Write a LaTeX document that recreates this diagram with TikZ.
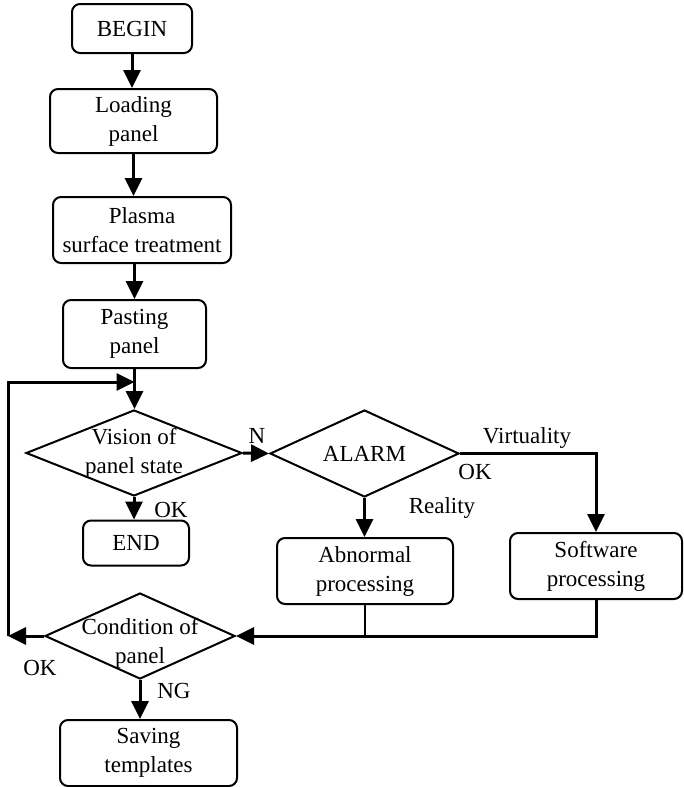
\documentclass[tikz,border=0pt]{standalone}
\usepackage{fontspec}
\setmainfont{Liberation Serif}
\usetikzlibrary{arrows.meta,shapes.geometric,positioning,calc}

\begin{document}
\begin{tikzpicture}[x=1pt, y=-1pt,
    font=\fontsize{23}{29}\selectfont,
    process/.style={draw, line width=2pt, rounded corners=8pt, align=center, inner sep=1pt},
    decision/.style={draw, diamond, line width=2pt, inner sep=0pt},
    flow/.style={line width=3pt, -{Triangle[length=18pt,width=17pt]}},
    link/.style={line width=2.5pt}]
  \useasboundingbox (0,0) rectangle (683,787);
  % main column
  \node[process, minimum width=120pt, minimum height=49pt] (begin) at (132,28.5) {BEGIN};
  \node[process, minimum width=167pt, minimum height=64pt] (load) at (133.5,121) {Loading\\panel};
  \node[process, minimum width=178pt, minimum height=66pt] (plasma) at (142,230) {Plasma\\surface treatment};
  \node[process, minimum width=143pt, minimum height=68pt] (paste) at (134.5,334) {Pasting\\panel};
  \node[decision, minimum width=216pt, minimum height=86pt,
        label={[align=center]center:Vision of\\panel state}] (vision) at (134,453) {};
  \node[process, minimum width=106pt, minimum height=45pt] (end) at (136,543) {END};
  \node[decision, minimum width=189pt, minimum height=87pt,
        label={center:ALARM}] (alarm) at (364.5,453.5) {};
  \node[process, minimum width=176pt, minimum height=66pt] (abnormal) at (365,571) {Abnormal\\processing};
  \node[process, minimum width=172pt, minimum height=66pt] (software) at (596,566) {Software\\processing};
  \node[decision, minimum width=190pt, minimum height=86pt,
        label={[align=center, yshift=-7pt]center:Condition of\\panel}] (cond) at (140,636) {};
  \node[process, minimum width=177pt, minimum height=66pt] (saving) at (148.5,753) {Saving\\templates};
  % loop corners
  \coordinate (loopL) at (8,636);
  \coordinate (loopT) at (8,382);

  \draw[flow] (begin.south) -- (begin.south |- load.north);
  \draw[flow] (load.south) -- (load.south |- plasma.north);
  \draw[flow] (paste.north |- plasma.south) -- (paste.north);
  \draw[flow] (paste.south) -- (paste.south |- vision.north);
  \draw[flow] (vision.south) -- (vision.south |- end.north);
  \draw[flow] (vision.east) -- (alarm.west);
  \draw[flow] (alarm.east) -- (software.north |- alarm.east) -- (software.north);
  \draw[flow] (alarm.south) -- (alarm.south |- abnormal.north);
  \draw[link] (abnormal.south) -- (abnormal.south |- cond.east);
  \draw[flow] (software.south) -- (software.south |- cond.east) -- (cond.east);
  \draw[flow] (cond.west) -- (loopL);
  \draw[flow] (loopL) -- (loopT) -- (loopT -| paste.south);
  \draw[flow] (cond.south) -- (cond.south |- saving.north);

  % branch labels
  \node at (257,436) {N};
  \node at (527,438) {Virtuality};
  \node at (475,472) {OK};
  \node at (442,508) {Reality};
  \node at (171,510) {OK};
  \node at (40,668) {OK};
  \node at (174,691) {NG};
\end{tikzpicture}
\end{document}
